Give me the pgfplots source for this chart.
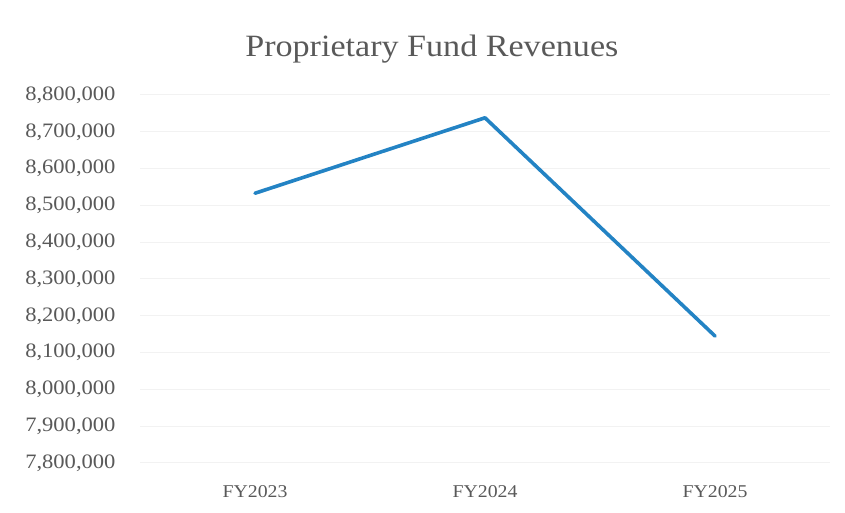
\documentclass[border=0pt]{standalone}
\usepackage{fontspec}
\setmainfont{Liberation Serif}[FakeStretch=1.1]
\usepackage{pgfplots}
\pgfplotsset{compat=1.18}
\definecolor{linecol}{HTML}{2383C4}
\definecolor{txt}{HTML}{595959}
\definecolor{gridc}{HTML}{F2F2F2}
\begin{document}
\begin{tikzpicture}
\useasboundingbox (-140pt,-50pt) rectangle (705pt,463pt);
\begin{axis}[
  at={(0pt,0pt)}, anchor=south west,
  scale only axis, width=690pt, height=368pt,
  xmin=-0.5, xmax=2.5, ymin=7800000, ymax=8800000,
  xtick={0,1,2}, xticklabels={FY2023,FY2024,FY2025},
  ytick={7800000,7900000,8000000,8100000,8200000,8300000,8400000,8500000,8600000,8700000,8800000},
  scaled y ticks=false,
  /pgf/number format/.cd, fixed, 1000 sep={,}, assume math mode=true, /pgfplots/.cd,
  axis line style={draw=none},
  major tick length=0pt,
  ymajorgrids, grid style={gridc, line width=1pt},
  yticklabel style={font=\fontsize{20.5}{24}\selectfont, text=txt, xshift=-21pt},
  xticklabel style={font=\fontsize{18}{21}\selectfont, text=txt, yshift=-19pt},
  title={Proprietary Fund Revenues},
  title style={font=\fontsize{31}{35}\selectfont, text=txt, at={(0.423,1)}, anchor=center, yshift=40pt},
  clip=false,
]
\addplot[linecol, line width=3.6pt, line join=round, line cap=round] coordinates {(0,8533000) (1,8738000) (2,8145000)};
\end{axis}
\end{tikzpicture}
\end{document}
